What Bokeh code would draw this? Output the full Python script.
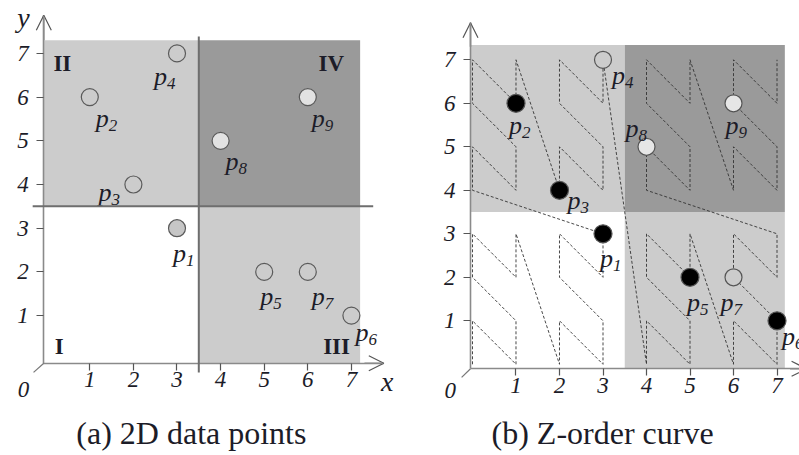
from bokeh.plotting import figure
from bokeh.layouts import row
from bokeh.models import Label, Arrow, OpenHead, FixedTicker, Range1d
from bokeh.core.properties import value
from bokeh.embed import file_html
from bokeh.resources import INLINE

# ---------------- data ----------------
point_names = ["1", "2", "3", "4", "5", "6", "7", "8", "9"]
point_x = [3, 1, 2, 3, 5, 7, 6, 4, 6]
point_y = [3, 6, 4, 7, 2, 1, 2, 5, 6]
tick_values = [1, 2, 3, 4, 5, 6, 7]
tick_labels = ["1", "2", "3", "4", "5", "6", "7"]
quadrant_names = ["I", "II", "III", "IV"]
split = 3.5  # quadrant boundary in both dimensions

# Z-order (Morton) curve visiting order over the 8x8 grid
z_x = [0, 0, 1, 1, 0, 0, 1, 1, 2, 2, 3, 3, 2, 2, 3, 3,
       0, 0, 1, 1, 0, 0, 1, 1, 2, 2, 3, 3, 2, 2, 3, 3,
       4, 4, 5, 5, 4, 4, 5, 5, 6, 6, 7, 7, 6, 6, 7, 7,
       4, 4, 5, 5, 4, 4, 5, 5, 6, 6, 7, 7, 6, 6, 7, 7]
z_y = [0, 1, 0, 1, 2, 3, 2, 3, 0, 1, 0, 1, 2, 3, 2, 3,
       4, 5, 4, 5, 6, 7, 6, 7, 4, 5, 4, 5, 6, 7, 6, 7,
       0, 1, 0, 1, 2, 3, 2, 3, 0, 1, 0, 1, 2, 3, 2, 3,
       4, 5, 4, 5, 6, 7, 6, 7, 4, 5, 4, 5, 6, 7, 6, 7]

caption_a = "(a) 2D data points"
caption_b = "(b) Z-order curve"

# ---------------- styles ----------------
SERIF = "Liberation Serif"
LIGHT = "#cccccc"
DARK = "#9a9a9a"
AXIS = "#8a8a8a"
TXT = "#1c1c28"
H = 455

left_fill = ["#c6c6c6", LIGHT, LIGHT, LIGHT, LIGHT, LIGHT, LIGHT, "#e2e2e2", "#e2e2e2"]
right_fill = ["black", "black", "black", LIGHT, "black", "black", LIGHT, "#e6e6e6", "#e6e6e6"]
right_size = [18, 18, 18, 17, 18, 18, 17, 17, 17]
# label offsets (px) of the "p" glyph from its point
left_dx = [-4, 6, -35, -23, -4, 4, 4, 5, 4]
left_dy = [25, 21, 8, 23, 25, 17, 25, 21, 21]
right_dx = [-3, -7, 8, 9, -3, 5, -13, -21, -8]
right_dy = [25, 22, 10, 16, 25, 16, 25, -18, 22]


def make_fig(width, xr, yr, x0, y0, xtop, ytop):
    f = figure(width=width, height=H, x_range=Range1d(*xr), y_range=Range1d(*yr),
               output_backend="svg", toolbar_location=None,
               min_border_left=0, min_border_right=0, min_border_top=0, min_border_bottom=0)
    f.grid.visible = False
    f.outline_line_color = None
    f.background_fill_color = "white"
    f.border_fill_color = "white"
    xa, ya = f.xaxis[0], f.yaxis[0]
    xa.fixed_location = y0
    xa.bounds = (x0, xtop)
    ya.fixed_location = x0
    ya.bounds = (y0, ytop)
    for ax in (xa, ya):
        ax.ticker = FixedTicker(ticks=tick_values)
        ax.major_label_overrides = {v: t for v, t in zip(tick_values, tick_labels)}
        ax.axis_line_color = AXIS
        ax.axis_line_width = 1.6
        ax.major_tick_line_color = "#555555"
        ax.major_tick_line_width = 1.2
        ax.major_tick_out = 7
        ax.major_tick_in = 0
        ax.minor_tick_line_color = None
        ax.major_label_text_font = SERIF
        ax.major_label_text_font_style = "italic"
        ax.major_label_text_font_size = "23px"
        ax.major_label_text_color = TXT
    ya.major_label_standoff = 8
    xa.major_label_standoff = 2
    return f


def add_labels(f, dx, dy):
    f.text(x=point_x, y=point_y, text=["p"] * len(point_x), x_offset=dx, y_offset=dy,
           text_font=value(SERIF), text_font_style="italic", text_font_size="26px",
           text_color=TXT, text_align="left", text_baseline="alphabetic")
    f.text(x=point_x, y=point_y, text=point_names,
           x_offset=[d + 13 for d in dx], y_offset=[d + 7 for d in dy],
           text_font=value(SERIF), text_font_style="italic", text_font_size="17px",
           text_color=TXT, text_align="left", text_baseline="alphabetic")


def plain(f, x0, y0, x1, y1, color, w):
    f.add_layout(Arrow(end=None, x_start=x0, y_start=y0, x_end=x1, y_end=y1,
                       line_color=color, line_width=w))


def head(f, x0, y0, x1, y1):
    f.add_layout(Arrow(end=OpenHead(size=15, line_color="#555555", line_width=1.2),
                       x_start=x0, y_start=y0, x_end=x1, y_end=y1,
                       line_color=AXIS, line_width=1.6))


def text_label(f, x, y, t, size, style="italic", align="center"):
    f.add_layout(Label(x=x, y=y, text=t, text_font=SERIF, text_font_style=style,
                       text_font_size=size, text_color=TXT, text_align=align,
                       text_baseline="middle"))


# ---------------- left panel ----------------
LX0, LY0, LXT, LYT = -0.055, -0.09, 7.743, 7.873
left = make_fig(400, (-1.048, 8.126), (-2.201, 8.211), LX0, LY0, LXT, LYT)
left.quad(left=[LX0, split, split], right=[split, 7.2, 7.2],
          bottom=[split, split, LY0], top=[7.3, 7.3, split],
          fill_color=[LIGHT, DARK, LIGHT], line_color=None)
plain(left, -0.31, split, 7.5, split, "#6e6e6e", 2)
plain(left, split, -0.30, split, 7.39, "#6e6e6e", 2)
left.scatter(point_x, point_y, size=17, fill_color=left_fill,
             line_color="#5a5a5a", line_width=1.2)
add_labels(left, left_dx, left_dy)
for name, qx, qy in zip(quadrant_names, [0.30, 0.37, 6.66, 6.54], [0.29, 6.77, 0.29, 6.77]):
    text_label(left, qx, qy, name, "23px", style="bold")
head(left, LX0, 7.3, LX0, LYT)
head(left, 7.3, LY0, LXT, LY0)
plain(left, LX0, LY0, -0.29, -0.30, "#777777", 1.2)
text_label(left, -0.52, 7.82, "y", "28px")
text_label(left, 7.82, -0.51, "x", "28px")
text_label(left, -0.52, -0.69, "0", "23px")
text_label(left, 3.33, -1.675, caption_a, "32px", style="normal")

# ---------------- right panel ----------------
RX0, RY0, RXT, RYT = -0.046, -0.103, 7.517, 7.851
right = make_fig(399, (-1.655, 7.517), (-2.097, 8.363), RX0, RY0, RXT, RYT)
right.quad(left=[RX0, split, split], right=[split, 7.18, 7.18],
           bottom=[split, split, RY0], top=[7.34, 7.34, split],
           fill_color=[LIGHT, DARK, LIGHT], line_color=None)
right.line(z_x, z_y, line_dash="3 2", line_color="#333333", line_width=0.9)
right.scatter(point_x, point_y, size=right_size, fill_color=right_fill,
              line_color="#555555", line_width=1.2)
add_labels(right, right_dx, right_dy)
head(right, RX0, 7.3, RX0, RYT)
head(right, 7.3, RY0, 7.68, RY0)
plain(right, RX0, RY0, -0.25, -0.30, "#777777", 1.2)
text_label(right, -0.51, -0.60, "0", "23px")
text_label(right, 2.99, -1.57, caption_b, "32px", style="normal")

page = row(left, right)
open("out.html", "w").write(file_html(page, INLINE))
